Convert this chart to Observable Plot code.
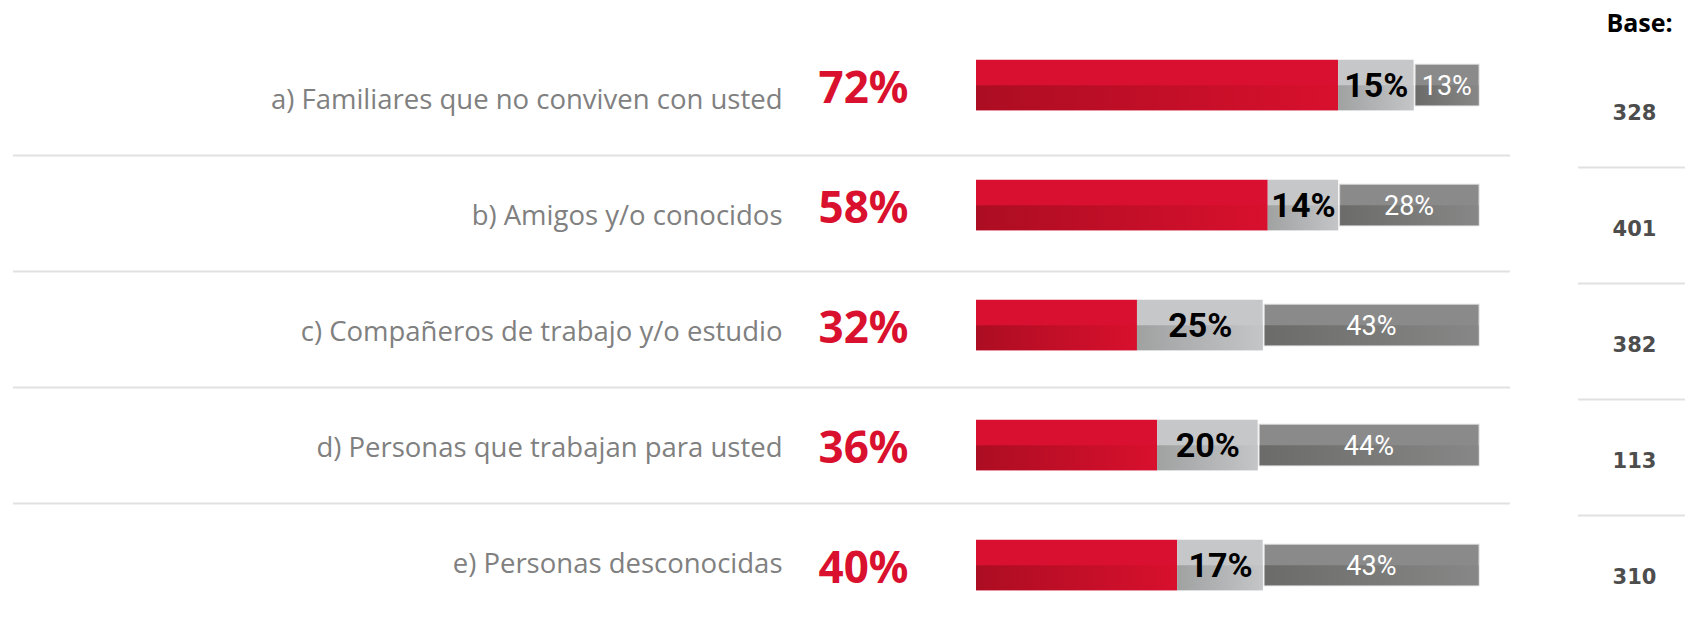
<!DOCTYPE html>
<html>
<head>
<meta charset="utf-8">
<script src="https://cdn.jsdelivr.net/npm/d3@7"></script>
<script src="https://cdn.jsdelivr.net/npm/@observablehq/plot@0.6"></script>
<style>
  html, body { margin: 0; padding: 0; background: #ffffff; }
  #wrap { position: relative; width: 1685px; height: 617px; overflow: hidden; background: #ffffff; }
  #wrap svg { position: absolute; left: 0; top: 0; }
</style>
</head>
<body>
<div id="wrap"></div>
<script>
// ---- data ----
const categories = [
  "a) Familiares que no conviven con usted",
  "b) Amigos y/o conocidos",
  "c) Compañeros de trabajo y/o estudio",
  "d) Personas que trabajan para usted",
  "e) Personas desconocidas"
];
const yesValues   = [72, 58, 32, 36, 40];
const maybeValues = [15, 14, 25, 20, 17];
const noValues    = [13, 28, 43, 44, 43];
const baseValues  = [328, 401, 382, 113, 310];
const baseTitle   = "Base:";

const rows = categories.map((cat, i) => ({
  cat,
  yes: yesValues[i],
  maybe: maybeValues[i],
  no: noValues[i],
  base: baseValues[i]
}));

// ---- layout constants ----
const W = 1685, H = 617;
const BAR_STEP = 120.5;
const BAR_H = 51, DARK_H = 42;
const inset = (BAR_STEP - BAR_H) / 2;
const darkInset = (BAR_STEP - DARK_H) / 2;
const halfTop = BAR_STEP / 2;

const RED = "#DA1030", LIGHT = "#C6C7C9", DARK = "#8A8A8A";

// ---- bars plot ----
const bars = Plot.plot({
  width: W, height: H,
  marginLeft: 976, marginRight: 206, marginTop: 0, marginBottom: 0,
  x: {domain: [0, 100], axis: null},
  y: {type: "band", domain: categories, range: [84 - BAR_STEP / 2, 84 + 4.5 * BAR_STEP], padding: 0, axis: null},
  style: {background: "transparent"},
  marks: [
    // red segment
    Plot.barX(rows, {y: "cat", x1: 0, x2: "yes", fill: RED, insetTop: inset, insetBottom: inset}),
    Plot.barX(rows, {y: "cat", x1: 0, x2: "yes", fill: "url(#gRed)", insetTop: halfTop, insetBottom: inset}),
    // light grey segment
    Plot.barX(rows, {y: "cat", x1: "yes", x2: d => d.yes + d.maybe, fill: LIGHT, insetTop: inset, insetBottom: inset}),
    Plot.barX(rows, {y: "cat", x1: "yes", x2: d => d.yes + d.maybe, fill: "url(#gLight)", insetTop: halfTop, insetBottom: inset}),
    // dark grey segment
    Plot.barX(rows, {y: "cat", x1: d => d.yes + d.maybe, x2: d => d.yes + d.maybe + d.no, fill: DARK,
      insetTop: darkInset, insetBottom: darkInset, insetLeft: 1.5, stroke: "#d6d6d6", strokeWidth: 1}),
    Plot.barX(rows, {y: "cat", x1: d => d.yes + d.maybe, x2: d => d.yes + d.maybe + d.no, fill: "url(#gDark)",
      insetTop: halfTop, insetBottom: darkInset + 0.5, insetLeft: 2, insetRight: 0.5}),
    // big red percentages
    Plot.text(rows, {y: "cat", text: d => d.yes + "%", frameAnchor: "left", dx: -68, dy: 3.5,
      textAnchor: "end", fill: "#D9102E", fontSize: 44, fontWeight: "bold", fontFamily: "Noto Sans"}),
    // light grey labels
    Plot.text(rows, {y: "cat", x: d => d.yes + d.maybe / 2, text: d => d.maybe + "%", dy: 0.5,
      fill: "#000000", fontSize: 34, fontWeight: "bold", fontFamily: "Roboto"}),
    // dark grey labels
    Plot.text(rows, {y: "cat", x: d => d.yes + d.maybe + d.no / 2, text: d => d.no + "%", dy: 1,
      fill: "#ffffff", fontSize: 27, fontFamily: "Roboto"})
  ]
});

// gradient definitions
const defs = d3.select(bars).insert("defs", ":first-child");
function grad(id, c0, c1) {
  const g = defs.append("linearGradient").attr("id", id)
    .attr("x1", 0).attr("x2", 1).attr("y1", 0).attr("y2", 0);
  g.append("stop").attr("offset", 0).attr("stop-color", c0);
  g.append("stop").attr("offset", 1).attr("stop-color", c1);
}
grad("gRed", "#AC0D22", "#D8102D");
grad("gLight", "#A0A1A1", "#C4C5C7");
grad("gDark", "#6B6B69", "#878787");

// ---- table plot (labels, separators, base column) ----
const TABLE_STEP = 116.7;
const table = Plot.plot({
  width: W, height: H,
  marginLeft: 0, marginRight: 0, marginTop: 0, marginBottom: 0,
  x: {axis: null},
  y: {type: "band", domain: categories, range: [103 - TABLE_STEP / 2, 103 + 4.5 * TABLE_STEP], padding: 0, axis: null},
  style: {background: "transparent"},
  marks: [
    // left separators
    Plot.ruleY(categories.slice(0, -1), {y: d => d, dy: 51, stroke: "#e1e1e1", strokeWidth: 2,
      insetLeft: 13, insetRight: 175}),
    // right separators
    Plot.ruleY(categories.slice(0, -1), {y: d => d, dy: 63, stroke: "#e1e1e1", strokeWidth: 2,
      insetLeft: 1578, insetRight: 0}),
    // category labels
    Plot.text(rows, {y: "cat", text: "cat", frameAnchor: "left", dx: 782, dy: -4,
      textAnchor: "end", fill: "#808080", fontSize: 27.5, fontFamily: "Open Sans"}),
    // base title
    Plot.text([baseTitle], {text: d => d, frameAnchor: "top-left", dx: 1639, dy: 14, lineAnchor: "top",
      textAnchor: "middle", fill: "#000000", fontSize: 25, fontWeight: "bold", fontFamily: "Open Sans"}),
    // base values
    Plot.text(rows, {y: "cat", text: d => String(d.base), frameAnchor: "left", dx: 1634, dy: 9,
      textAnchor: "middle", fill: "#4d4d4d", fontSize: 21, fontWeight: "bold", fontFamily: "DejaVu Sans"})
  ]
});

const wrap = document.getElementById("wrap");
wrap.appendChild(bars);
wrap.appendChild(table);
</script>
</body>
</html>
